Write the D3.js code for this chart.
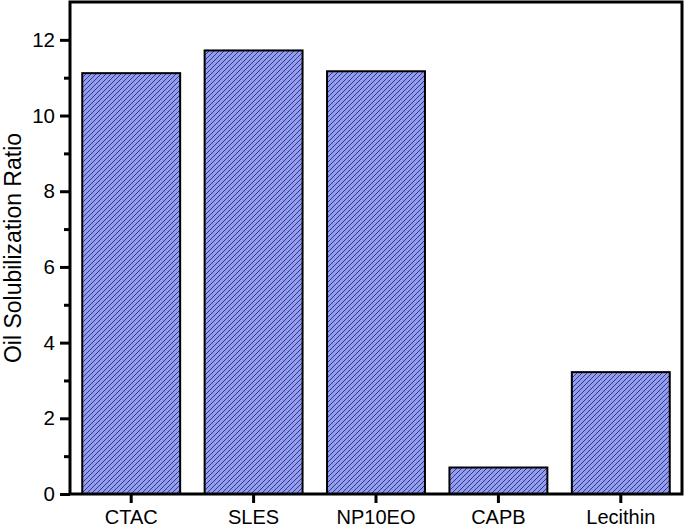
<!DOCTYPE html>
<html><head><meta charset="utf-8">
<script src="https://cdn.jsdelivr.net/npm/d3@7"></script>
<style>body{margin:0;background:#fff}svg{display:block}text{font-family:"Liberation Sans",Arial,sans-serif}</style>
</head><body><svg id="c" width="685" height="528"></svg>
<script>
const categories = ["CTAC","SLES","NP10EO","CAPB","Lecithin"];
const values = [11.12, 11.72, 11.17, 0.70, 3.22];
const yTicks = [0,2,4,6,8,10,12];
const yMinor = [1,3,5,7,9,11];
const yTitle = "Oil Solubilization Ratio";

const svg = d3.select("#c");
const m = {l:70, r:3, t:2, b:34};
const W = 685, H = 528;
const x = d3.scaleBand().domain(categories).range([m.l, W-m.r]).paddingInner(0.2).paddingOuter(0.1);
const y = d3.scaleLinear().domain([0,13]).range([H-m.b, m.t]);

const defs = svg.append("defs");
const pat = defs.append("pattern").attr("id","hatch").attr("patternUnits","userSpaceOnUse")
  .attr("width",5).attr("height",5);
pat.append("rect").attr("width",5).attr("height",5).attr("fill","#929cf2");
pat.append("path").attr("d","M0,5 L5,0 M-1,1 L1,-1 M4,6 L6,4")
  .attr("stroke","#232a60").attr("stroke-width",0.85);

svg.selectAll("rect.bar").data(values).join("rect").attr("class","bar")
  .attr("x",(d,i)=>x(categories[i])).attr("width",x.bandwidth())
  .attr("y",d=>y(d)).attr("height",d=>y(0)-y(d))
  .attr("fill","url(#hatch)").attr("stroke","#000").attr("stroke-width",2);

// frame
svg.append("rect").attr("x",m.l).attr("y",m.t).attr("width",W-m.r-m.l).attr("height",H-m.b-m.t)
  .attr("fill","none").attr("stroke","#000").attr("stroke-width",3);

const yAx = svg.append("g").attr("transform",`translate(${m.l},0)`)
  .call(d3.axisLeft(y).tickValues(yTicks).tickSize(10).tickPadding(5).tickFormat(d3.format("d")));
yAx.select(".domain").remove();
yAx.selectAll("line").attr("stroke-width",3);
yAx.selectAll("text").attr("font-size",20.5).attr("fill","#000");
const yAxm = svg.append("g").attr("transform",`translate(${m.l},0)`)
  .call(d3.axisLeft(y).tickValues(yMinor).tickSize(6).tickFormat(""));
yAxm.select(".domain").remove();
yAxm.selectAll("line").attr("stroke-width",3);

const xAx = svg.append("g").attr("transform",`translate(0,${H-m.b})`)
  .call(d3.axisBottom(x).tickSize(9).tickPadding(7));
xAx.select(".domain").remove();
xAx.selectAll("line").attr("stroke-width",3);
xAx.selectAll("text").attr("font-size",20).attr("fill","#000");

svg.append("text").attr("transform",`translate(21,248) rotate(-90)`)
  .attr("text-anchor","middle").attr("font-size",23).text(yTitle);
</script></body></html>
